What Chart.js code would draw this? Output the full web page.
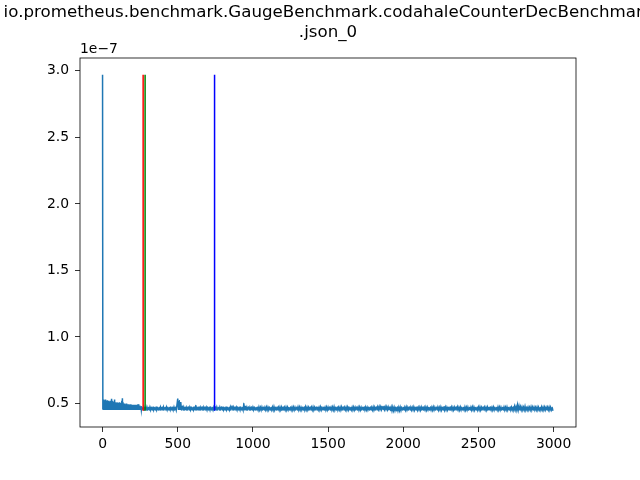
<!DOCTYPE html>
<html>
<head>
<meta charset="utf-8">
<script src="https://cdn.jsdelivr.net/npm/chart.js@4/dist/chart.umd.min.js"></script>
<style>
html,body{margin:0;padding:0;background:#fff;}
canvas{display:block;}
</style>
</head>
<body>
<canvas id="c" width="640" height="480"></canvas>
<script>
// Title lines
const titleLines = ["io.prometheus.benchmark.GaugeBenchmark.codahaleCounterDecBenchmark", ".json_0"];
const offsetLabel = "1e\u22127";
// Values in units of 1e-7.
// Early part: iterations 0..260 sampled every 2
const earlyStep = 2;
const earlyValues = [
2.97,
0.455,0.52,0.452,0.53,0.454,0.515,0.452,0.525,0.453,0.53,
0.452,0.51,0.455,0.52,0.452,0.525,0.454,0.515,0.452,0.52,
0.453,0.505,0.452,0.515,0.455,0.52,0.452,0.51,0.454,0.535,
0.452,0.52,0.453,0.51,0.452,0.515,0.455,0.505,0.452,0.53,
0.454,0.51,0.452,0.505,0.453,0.50,0.452,0.51,0.455,0.50,
0.452,0.505,0.453,0.50,0.452,0.51,0.454,0.50,0.452,0.505,
0.453,0.50,0.452,0.52,0.455,0.54,0.452,0.51,0.453,0.50,
0.452,0.495,0.454,0.50,0.452,0.49,0.453,0.495,0.452,0.50,
0.454,0.49,0.452,0.495,0.453,0.488,0.452,0.495,0.455,0.49,
0.452,0.488,0.453,0.495,0.452,0.49,0.454,0.485,0.452,0.49,
0.453,0.488,0.452,0.49,0.455,0.485,0.452,0.49,0.453,0.486,
0.452,0.49,0.454,0.485,0.452,0.488,0.453,0.484,0.452,0.49,
0.453,0.485,0.452,0.48,0.454,0.478,0.452,0.476,0.453,0.474
];
// Main part: iterations 270..2995 sampled every 5, plus last iteration 2999
const mainStart = 270;
const mainStep = 5;
const lastIndex = 2999;
const mainValues = [
0.452,0.473,0.451,0.472,0.452,0.474,0.451,0.471,0.452,0.473,0.451,0.472,0.452,0.474,0.451,0.471,0.452,0.473,0.451,0.472,
0.452,0.471,0.451,0.473,0.452,0.472,0.451,0.474,0.452,0.471,0.451,0.473,0.452,0.472,0.451,0.471,0.452,0.474,0.451,0.472,
0.451,0.473,0.452,0.472,0.451,0.49,0.537,0.452,0.52,0.451,0.51,0.452,0.48,0.451,0.473,0.452,0.472,0.451,0.471,0.452,
0.473,0.451,0.472,0.452,0.474,0.451,0.471,0.452,0.473,0.451,0.485,0.452,0.472,0.451,0.473,0.452,0.471,0.451,0.474,0.452,
0.472,0.451,0.473,0.452,0.471,0.451,0.474,0.452,0.472,0.451,0.473,0.452,0.471,0.451,0.472,0.452,0.474,0.451,0.473,0.452,
0.471,0.451,0.472,0.452,0.473,0.451,0.474,0.452,0.471,0.451,0.473,0.452,0.472,0.451,0.471,0.452,0.474,0.451,0.482,0.452,
0.472,0.451,0.473,0.452,0.471,0.451,0.474,0.452,0.472,0.451,0.473,0.452,0.471,0.451,0.50,0.452,0.478,0.451,0.472,0.452,
0.473,0.451,0.471,0.452,0.474,0.451,0.472,0.452,0.473,0.451,0.471,0.452,0.472,0.451,0.474,0.452,0.471,0.451,0.473,0.452,
0.472,0.451,0.471,0.452,0.473,0.451,0.472,0.452,0.474,0.451,0.471,0.452,0.473,0.451,0.476,0.452,0.472,0.451,0.473,0.452,
0.471,0.451,0.473,0.452,0.472,0.450,0.474,0.451,0.471,0.452,0.473,0.451,0.472,0.452,0.471,0.451,0.474,0.452,0.472,0.451,
0.473,0.452,0.471,0.451,0.472,0.452,0.474,0.451,0.473,0.452,0.471,0.451,0.472,0.452,0.473,0.451,0.475,0.452,0.472,0.451,
0.471,0.452,0.473,0.451,0.472,0.452,0.474,0.451,0.471,0.452,0.473,0.451,0.472,0.452,0.471,0.451,0.474,0.452,0.473,0.451,
0.472,0.452,0.471,0.451,0.473,0.452,0.472,0.451,0.474,0.452,0.471,0.451,0.473,0.452,0.476,0.451,0.472,0.452,0.473,0.451,
0.471,0.452,0.472,0.451,0.474,0.452,0.473,0.451,0.471,0.452,0.472,0.451,0.473,0.452,0.474,0.451,0.471,0.452,0.472,0.451,
0.473,0.452,0.471,0.451,0.474,0.452,0.472,0.451,0.473,0.452,0.471,0.451,0.472,0.452,0.474,0.451,0.473,0.452,0.471,0.451,
0.472,0.452,0.473,0.451,0.471,0.452,0.474,0.451,0.472,0.452,0.473,0.451,0.474,0.455,0.477,0.456,0.476,0.455,0.478,0.456,
0.477,0.455,0.476,0.456,0.475,0.454,0.474,0.453,0.473,0.448,0.472,0.446,0.473,0.447,0.471,0.448,0.472,0.446,0.473,0.447,
0.471,0.448,0.472,0.449,0.473,0.451,0.471,0.452,0.472,0.451,0.474,0.452,0.471,0.451,0.473,0.452,0.472,0.451,0.471,0.452,
0.474,0.451,0.472,0.452,0.473,0.451,0.471,0.452,0.472,0.451,0.473,0.452,0.474,0.451,0.471,0.452,0.473,0.451,0.472,0.452,
0.471,0.451,0.473,0.452,0.472,0.451,0.474,0.452,0.471,0.451,0.472,0.452,0.473,0.451,0.471,0.452,0.474,0.451,0.472,0.452,
0.476,0.451,0.473,0.452,0.471,0.451,0.472,0.452,0.474,0.451,0.473,0.452,0.471,0.451,0.472,0.452,0.473,0.451,0.474,0.452,
0.471,0.451,0.473,0.452,0.472,0.451,0.471,0.452,0.474,0.451,0.472,0.452,0.473,0.451,0.471,0.452,0.472,0.451,0.474,0.452,
0.473,0.451,0.471,0.452,0.472,0.451,0.473,0.452,0.474,0.451,0.471,0.452,0.473,0.451,0.472,0.452,0.471,0.451,0.473,0.452,
0.472,0.451,0.474,0.452,0.471,0.451,0.473,0.452,0.472,0.451,0.471,0.452,0.474,0.451,0.473,0.452,0.472,0.451,0.471,0.452,
0.473,0.451,0.472,0.452,0.474,0.451,0.471,0.452,0.473,0.451,0.472,0.452,0.474,0.451,0.478,0.452,0.476,0.451,0.488,0.452,
0.481,0.451,0.476,0.452,0.474,0.451,0.472,0.452,0.478,0.451,0.473,0.452,0.472,0.451,0.471,0.452,0.475,0.451,0.473,0.452,
0.472,0.451,0.471,0.452,0.473,0.451,0.472,0.452,0.471,0.451,0.474,0.452,0.472,0.451,0.473,0.452,0.471,0.451,0.472,0.452,
0.473,0.451,0.472,0.452,0.471,0.451,
0.452
];
// Vertical marker lines
const markerX = [270, 283, 745];
const markerColors = ["#ff0000", "#008000", "#0000ff"];
// Axis ticks
const xTicks = [0, 500, 1000, 1500, 2000, 2500, 3000];
const yTicks = [0.5, 1.0, 1.5, 2.0, 2.5, 3.0];
const yTickLabels = ["0.5", "1.0", "1.5", "2.0", "2.5", "3.0"];

const seriesPoints = earlyValues.map((v, j) => ({x: j * earlyStep, y: v}))
  .concat(mainValues.map((v, j) => ({x: Math.min(mainStart + j * mainStep, lastIndex), y: v})));
const allValues = earlyValues.concat(mainValues);
const yMin = Math.min(...allValues), yMax = Math.max(...allValues);

const datasets = [];
markerX.forEach((mx, i) => {
  datasets.push({
    data: [{x: mx, y: yMin}, {x: mx, y: yMax}],
    borderColor: markerColors[i], borderWidth: 1.5, pointRadius: 0, order: 0 + (2 - i) * 0.1
  });
});
datasets.push({
  data: seriesPoints, borderColor: "#1f77b4", borderWidth: 1.5, pointRadius: 0, order: 1,
  tension: 0.00001
});

const FONT = "DejaVu Sans";
const boxPlugin = {
  id: "box",
  afterDatasetsDraw(chart) {
    const {ctx, chartArea: a} = chart;
    ctx.save();
    ctx.strokeStyle = "#000"; ctx.lineWidth = 0.8;
    ctx.strokeRect(a.left, a.top, a.right - a.left, a.bottom - a.top);
    ctx.fillStyle = "#000";
    ctx.font = "13.9px '" + FONT + "'";
    ctx.textAlign = "left"; ctx.textBaseline = "alphabetic";
    ctx.fillText(offsetLabel, a.left, a.top - 5);
    ctx.font = "16.67px '" + FONT + "'";
    ctx.textAlign = "center";
    const cx = (a.left + a.right) / 2;
    ctx.fillText(titleLines[0], cx, 17);
    ctx.fillText(titleLines[1], cx, 37);
    ctx.restore();
  }
};

new Chart(document.getElementById("c"), {
  type: "line",
  data: {datasets},
  options: {
    responsive: false, animation: false, devicePixelRatio: 1,
    parsing: false, normalized: true,
    layout: {padding: {top: 58, right: 64, left: 0, bottom: 0}},
    plugins: {legend: {display: false}, tooltip: {enabled: false}, title: {display: false}},
    scales: {
      x: {
        type: "linear", min: -150, max: 3149,
        afterBuildTicks: s => { s.ticks = xTicks.map(v => ({value: v})); },
        afterFit: s => { s.height = 53; },
        grid: {drawOnChartArea: false, tickLength: 5, color: "#000", lineWidth: 0.8},
        border: {display: false},
        ticks: {color: "#000", font: {family: FONT, size: 13.9}, padding: 4, maxRotation: 0, autoSkip: false,
          callback: (v) => String(v)}
      },
      y: {
        type: "linear", min: 0.3236, max: 3.0964,
        afterBuildTicks: s => { s.ticks = yTicks.map(v => ({value: v})); },
        afterFit: s => { s.width = 80; },
        grid: {drawOnChartArea: false, tickLength: 5, color: "#000", lineWidth: 0.8},
        border: {display: false},
        ticks: {color: "#000", font: {family: FONT, size: 13.9}, padding: 6, autoSkip: false,
          callback: (v) => { const i = yTicks.findIndex(t => Math.abs(t - v) < 1e-9); return i >= 0 ? yTickLabels[i] : ""; }}
      }
    }
  },
  plugins: [boxPlugin]
});
</script>
</body>
</html>
